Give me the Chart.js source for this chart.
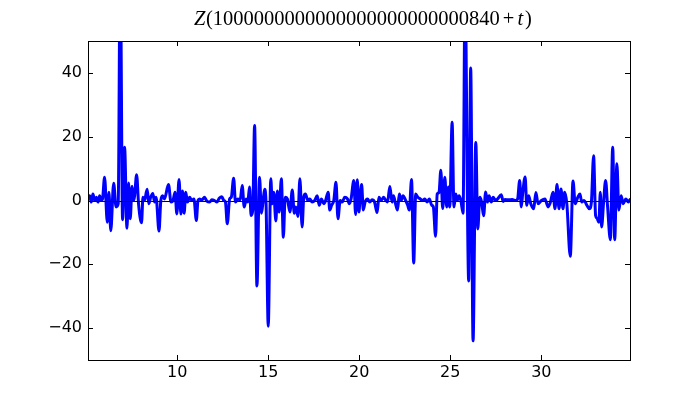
<!DOCTYPE html>
<html><head><meta charset="utf-8">
<script src="https://cdn.jsdelivr.net/npm/chart.js@4.4.0/dist/chart.umd.min.js"></script>
<style>html,body{margin:0;padding:0;background:#fff}#wrap{width:700px;height:400px}</style>
</head><body><div id="wrap"><canvas id="c" width="700" height="400"></canvas></div>
<script>
const titleNumber = "1000000000000000000000000840";
const tValues = [
5.10,5.19,5.28,5.37,5.47,5.56,5.65,5.74,5.83,5.90,
6.01,6.16,6.25,6.35,6.51,6.64,6.76,6.87,7.00,7.11,
7.24,7.33,7.42,7.52,7.60,7.66,7.77,7.88,8.04,8.12,
8.20,8.35,8.44,8.54,8.66,8.76,8.84,9.00,9.10,9.20,
9.30,9.52,9.66,9.77,9.88,9.98,10.10,10.20,10.29,10.38,
10.47,10.56,10.68,10.80,10.92,11.05,11.14,11.23,11.35,11.50,
11.63,11.78,11.90,12.05,12.18,12.32,12.45,12.56,12.65,12.75,
12.88,12.97,13.10,13.20,13.33,13.46,13.57,13.68,13.79,13.88,
13.97,14.06,14.15,14.25,14.38,14.52,14.63,14.72,14.80,14.88,
15.00,15.14,15.22,15.30,15.42,15.50,15.60,15.72,15.83,15.93,
16.05,16.19,16.32,16.43,16.52,16.63,16.74,16.86,16.95,17.04,
17.18,17.28,17.41,17.55,17.69,17.80,17.92,18.05,18.15,18.29,
18.38,18.48,18.60,18.72,18.83,18.95,19.06,19.20,19.35,19.45,
19.55,19.70,19.80,19.89,19.98,20.05,20.13,20.22,20.32,20.45,
20.58,20.70,20.84,20.98,21.08,21.20,21.34,21.46,21.55,21.68,
21.80,21.88,21.99,22.10,22.20,22.30,22.40,22.55,22.66,22.75,
22.87,22.99,23.10,23.22,23.35,23.47,23.60,23.72,23.85,23.98,
24.07,24.19,24.28,24.38,24.48,24.58,24.70,24.80,24.90,24.97,
25.10,25.20,25.30,25.38,25.48,25.58,25.70,25.81,26.01,26.12,
26.25,26.40,26.51,26.62,26.72,26.83,26.94,27.04,27.13,27.25,
27.35,27.50,27.60,27.80,27.90,28.00,28.20,28.40,28.60,28.70,
28.81,28.90,28.98,29.11,29.20,29.30,29.42,29.58,29.70,29.82,
30.00,30.20,30.37,30.50,30.64,30.75,30.86,30.97,31.08,31.19,
31.28,31.40,31.59,31.74,31.86,32.00,32.12,32.22,32.35,32.50,
32.64,32.75,32.87,32.98,33.07,33.16,33.24,33.31,33.42,33.53,
33.64,33.79,33.92,34.03,34.15,34.26,34.38,34.50,34.64,34.78,
34.87];
const zValues = [
1.0,1.5,-0.5,2.0,0.0,1.0,-0.5,1.5,0.0,0.5,
7.3,-6.8,2.6,-9.5,5.4,-2.0,-1.0,75,-6.0,16.7,
-8.7,5.5,-5.7,4.5,0.0,1.5,8.1,-1.3,-7.0,1.0,
0.0,3.5,-1.0,1.0,2.2,-0.5,1.0,-9.6,0.0,1.5,
0.5,5.0,-0.5,0.0,2.6,-4.2,6.6,-4.2,3.0,-4.0,
2.6,-0.5,1.0,0.0,0.5,-6.3,0.0,0.5,0.2,1.0,
-0.2,-0.5,0.2,0.0,-0.5,0.8,1.2,0.0,-0.5,-7.3,
0.5,1.0,7.0,-0.5,0.5,0.2,4.7,-2.0,0.5,-0.5,
4.2,-4.7,-3.0,23.5,-26.8,7.3,-4.0,0.0,3.5,-1.0,
-39.4,6.8,-1.0,2.6,-6.4,3.0,-3.6,6.8,-11.5,1.0,
0.5,-3.6,3.3,-4.0,-2.0,-5.0,6.8,-8.3,1.0,2.0,
0.0,0.5,-0.5,0.0,1.5,-1.5,0.5,-1.0,0.0,2.6,
-3.0,-1.5,0.0,5.7,-5.7,0.0,-0.5,1.0,0.5,-1.0,
0.5,6.25,-4.4,6.5,-3.6,1.0,5.0,-3.0,-0.5,0.5,
-0.5,0.2,-0.5,-3.8,1.0,0.0,1.0,0.0,-0.5,4.4,
-0.5,1.5,-1.0,-3.0,2.0,0.0,1.5,0.0,-1.5,-3.0,
6.6,-19.6,2.0,1.0,0.5,0.0,0.5,-0.5,0.5,-1.5,
-2.0,-11.2,2.0,2.5,9.5,-2.5,7.3,-2.0,4.2,-2.0,
24.5,-2.0,2.0,0.0,1.5,0.0,-4.0,65,-25.2,41.5,
-44.0,18.2,-8.9,1.0,-0.5,-4.8,2.7,-0.5,1.5,-0.5,
1.0,0.0,0.5,1.8,-0.3,0.3,0.2,0.3,0.0,0.5,
6.3,-2.0,2.5,7.4,-1.5,1.5,-1.0,-2.6,2.5,-1.0,
0.0,0.5,-2.0,-0.5,2.6,-2.6,5.0,-2.6,3.6,-2.6,
2.6,-1.0,-17.5,6.1,-1.0,1.0,2.0,-0.5,0.0,-1.5,
-2.6,-0.5,14.0,-4.7,-5.7,-6.8,2.6,-8.3,-0.5,6.3,
-2.0,-12.3,16.7,-12.3,11.5,-3.0,1.5,-1.0,0.5,-0.5,
0.3];
const xTicks = [10, 15, 20, 25, 30];
const yTicks = [-40, -20, 0, 20, 40];
const xRange = [5.1, 34.87];
const yRange = [-50, 50];

const points = tValues.map((t, i) => ({x: t, y: zValues[i]}));
const fmt = v => (v < 0 ? "\u2212" + Math.abs(v) : String(v));

const framePlugin = {
  id: 'frame',
  afterDatasetsDraw(chart) {
    const {ctx, chartArea: a, scales} = chart;
    ctx.save();
    ctx.strokeStyle = '#000';
    ctx.lineWidth = 1;
    const y0 = Math.round(scales.y.getPixelForValue(0)) + 0.5;
    ctx.beginPath(); ctx.moveTo(a.left, y0); ctx.lineTo(a.right, y0); ctx.stroke();
    ctx.strokeRect(Math.round(a.left) + 0.5, Math.round(a.top) + 0.5,
                   Math.round(a.right - a.left), Math.round(a.bottom - a.top));
    const L = 5;
    ctx.beginPath();
    scales.x.ticks.forEach(t => {
      const px = Math.round(scales.x.getPixelForValue(t.value)) + 0.5;
      ctx.moveTo(px, a.bottom); ctx.lineTo(px, a.bottom - L);
      ctx.moveTo(px, a.top); ctx.lineTo(px, a.top + L);
    });
    scales.y.ticks.forEach(t => {
      const py = Math.round(scales.y.getPixelForValue(t.value)) + 0.5;
      ctx.moveTo(a.left, py); ctx.lineTo(a.left + L, py);
      ctx.moveTo(a.right, py); ctx.lineTo(a.right - L, py);
    });
    ctx.stroke();
    ctx.restore();
  },
  afterDraw(chart) {
    const {ctx} = chart;
    ctx.save();
    ctx.fillStyle = '#000';
    ctx.textBaseline = 'alphabetic';
    const it = 'italic 20.5px "Liberation Serif"';
    const rm = '20.5px "Liberation Serif"';
    const parts = [
      {s: 'Z', f: it, g: 0.5},
      {s: '(' + titleNumber, f: rm, g: 3},
      {s: '+', f: rm, g: 3},
      {s: 't', f: it, g: 2},
      {s: ')', f: rm, g: 0}
    ];
    let total = 0;
    parts.forEach(p => { ctx.font = p.f; p.w = ctx.measureText(p.s).width; total += p.w + p.g; });
    let x = 363 - total / 2;
    parts.forEach(p => { ctx.font = p.f; ctx.fillText(p.s, x, 24.5); x += p.w + p.g; });
    ctx.restore();
  }
};

new Chart(document.getElementById('c'), {
  type: 'line',
  data: {
    datasets: [{
      data: points,
      borderColor: '#0000ff',
      borderWidth: 3,
      pointRadius: 0,
      fill: false,
      cubicInterpolationMode: 'monotone',
      borderJoinStyle: 'round',
      borderCapStyle: 'round'
    }]
  },
  options: {
    responsive: false,
    animation: false,
    devicePixelRatio: 1,
    layout: {padding: {top: 41, right: 70, left: 0, bottom: 0}},
    plugins: {legend: {display: false}, title: {display: false}, tooltip: {enabled: false}},
    scales: {
      x: {
        type: 'linear', min: xRange[0], max: xRange[1],
        afterBuildTicks: s => { s.ticks = xTicks.map(v => ({value: v})); },
        afterFit: s => { s.height = 40; },
        grid: {display: false, drawTicks: false},
        border: {display: false},
        ticks: {padding: 3, color: '#000', font: {family: 'DejaVu Sans', size: 16}, maxRotation: 0,
                callback: v => fmt(v)}
      },
      y: {
        type: 'linear', min: yRange[0], max: yRange[1],
        afterBuildTicks: s => { s.ticks = yTicks.map(v => ({value: v})); },
        afterFit: s => { s.width = 88; },
        grid: {display: false, drawTicks: false},
        border: {display: false},
        ticks: {padding: 6, color: '#000', font: {family: 'DejaVu Sans', size: 16},
                callback: v => fmt(v)}
      }
    }
  },
  plugins: [framePlugin]
});
</script>
</body></html>
